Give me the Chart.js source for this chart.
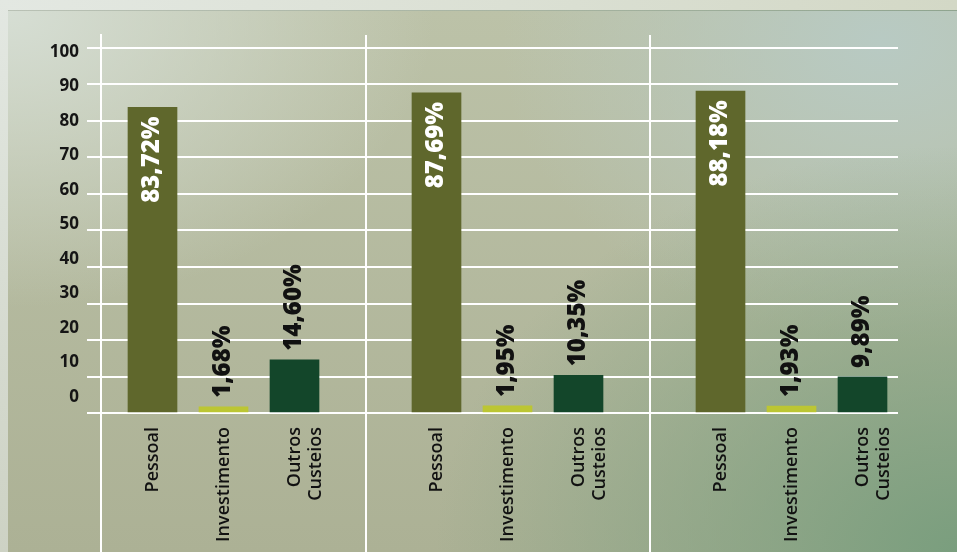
<!DOCTYPE html>
<html>
<head>
<meta charset="utf-8">
<script src="https://cdn.jsdelivr.net/npm/chart.js@4/dist/chart.umd.min.js"></script>
<style>
  html, body { margin: 0; padding: 0; }
  body { width: 957px; height: 552px; position: relative; overflow: hidden; background: #e3e8e2; }
  #frameTop { position: absolute; left: 0; top: 0; width: 957px; height: 10px;
    background: linear-gradient(to right, #e3e8e2, #dadfd2 60%, #d3d8c6); }
  #frameLeft { position: absolute; left: 0; top: 0; width: 8px; height: 552px;
    background: linear-gradient(to bottom, #e3e8e2, #cdd2c4); }
  #panel { position: absolute; left: 8px; top: 10px; width: 949px; height: 542px;
    background:
      radial-gradient(55% 75% at 100% 100%, rgba(122,158,126,1), rgba(122,158,126,0)),
      radial-gradient(40% 55% at 92% 6%, rgba(184,202,195,1), rgba(184,202,195,0)),
      radial-gradient(45% 55% at 0% 0%, rgba(214,222,212,1), rgba(214,222,212,0)),
      linear-gradient(to bottom, #bcc2a8, #acb195);
  }
  #panelLine { position: absolute; left: 8px; top: 10px; width: 949px; height: 1px;
    background: linear-gradient(to right, #b9c1b5, #a4b29f 60%, #8fa48f); }
  canvas { position: absolute; left: 0; top: 0; }
</style>
</head>
<body>
<div id="frameTop"></div>
<div id="frameLeft"></div>
<div id="panel"></div>
<div id="panelLine"></div>
<canvas id="chart" width="957" height="552"></canvas>
<script>
// ---- data ----
const categories = ['Pessoal', 'Investimento', ['Outros', 'Custeios']];
const pessoal = [83.72, 87.69, 88.18];
const investimento = [1.68, 1.95, 1.93];
const outrosCusteios = [14.60, 10.35, 9.89];
const yTicks = [0, 10, 20, 30, 40, 50, 60, 70, 80, 90, 100];
const seriesColors = ['#5f672c', '#bcc633', '#13462a'];

// ---- build the category table (a blank slot separates the groups) ----
const labels = [];
const values = [];
const colors = [];
const series = [pessoal, investimento, outrosCusteios];
for (let g = 0; g < pessoal.length; g++) {
  if (g > 0) { labels.push(''); values.push(null); colors.push('transparent'); }
  for (let s = 0; s < series.length; s++) {
    labels.push(categories[s]);
    values.push(series[s][g]);
    colors.push(seriesColors[s]);
  }
}

const FONT = 'Open Sans';
const fmt = v => v.toFixed(2).replace('.', ',') + '%';
const setTicks = list => scale => { scale.ticks = list.map(v => ({ value: v })); };
const noVPad = w => s => { s.width = w; s.paddingTop = 0; s.paddingBottom = 0; };

const valueLabels = {
  id: 'valueLabels',
  afterDatasetsDraw(chart) {
    const ctx = chart.ctx;
    const meta = chart.getDatasetMeta(0);
    meta.data.forEach((bar, i) => {
      const v = values[i];
      if (v == null) return;
      const inside = v > 50;
      ctx.save();
      ctx.translate(bar.x, bar.y);
      ctx.rotate(-Math.PI / 2);
      ctx.font = '800 24px "' + FONT + '"';
      ctx.fillStyle = inside ? '#ffffff' : '#111111';
      ctx.textBaseline = 'middle';
      ctx.textAlign = inside ? 'right' : 'left';
      ctx.fillText(fmt(v), inside ? -9 : 9, 0);
      ctx.restore();
    });
  }
};

new Chart(document.getElementById('chart'), {
  type: 'bar',
  data: {
    labels: labels,
    datasets: [{
      data: values,
      backgroundColor: colors,
      borderWidth: 0,
      barThickness: 49
    }]
  },
  options: {
    responsive: false,
    animation: false,
    devicePixelRatio: 1,
    layout: { padding: { left: 0, top: 35, right: 59, bottom: 0 } },
    plugins: { legend: { display: false }, tooltip: { enabled: false } },
    scales: {
      x: {
        type: 'category',
        position: { y: 0 },
        offset: true,
        grid: {
          offset: false,
          drawTicks: false,
          lineWidth: 2,
          color: ctx => (labels[ctx.index] === '' ? '#ffffff' : 'rgba(0,0,0,0)')
        },
        border: { display: false },
        ticks: {
          autoSkip: false,
          maxRotation: 90,
          minRotation: 90,
          padding: 14,
          color: '#111111',
          font: { family: FONT, size: 18, weight: '600' }
        },
        afterFit: s => { s.paddingLeft = 0; s.paddingRight = 0; }
      },
      y: {
        position: 'left',
        weight: 0,
        min: -38.08,
        max: 103.56,
        afterBuildTicks: setTicks(yTicks),
        ticks: { display: false },
        grid: { color: '#ffffff', lineWidth: 2, drawTicks: true, tickLength: 16 },
        border: { display: false },
        afterFit: noVPad(16)
      },
      yg: {
        position: 'left',
        weight: 1,
        min: -38.08,
        max: 103.56,
        afterBuildTicks: setTicks(yTicks),
        ticks: { display: false },
        grid: { drawOnChartArea: false, drawTicks: true, tickLength: 14, color: '#ffffff', lineWidth: 2 },
        border: { display: true, color: '#ffffff', width: 2 },
        afterFit: noVPad(14)
      },
      yl: {
        position: 'left',
        weight: 2,
        min: -44.93,
        max: 104.93,
        afterBuildTicks: setTicks(yTicks),
        ticks: {
          padding: 8,
          color: '#151515',
          font: { family: FONT, size: 17, weight: 'bold' }
        },
        grid: { display: false, drawTicks: false },
        border: { display: false },
        afterFit: noVPad(87)
      }
    }
  },
  plugins: [valueLabels]
});
</script>
</body>
</html>
